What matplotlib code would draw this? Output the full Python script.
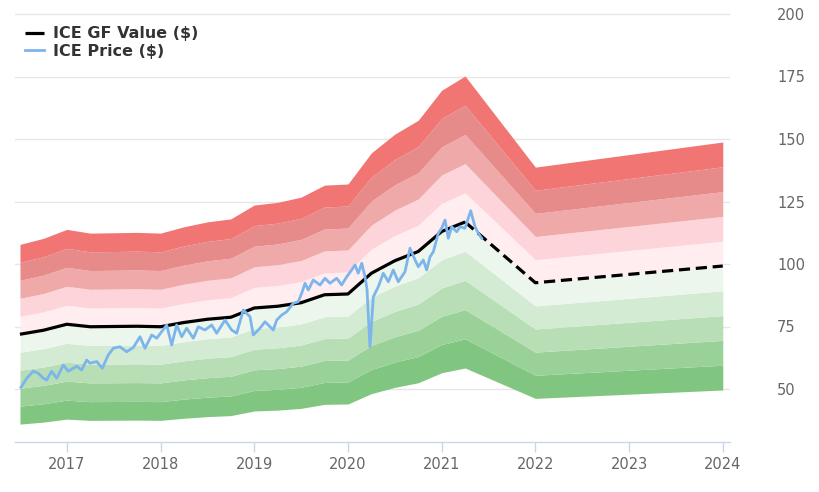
import matplotlib
matplotlib.use("Agg")
import matplotlib.pyplot as plt
import numpy as np

# GF Value nodes (fractional year, $)
gf_years = [2016.5, 2016.75, 2017.0, 2017.25, 2017.5, 2017.75, 2018.0, 2018.25,
            2018.5, 2018.75, 2019.0, 2019.25, 2019.5, 2019.75, 2020.0, 2020.25,
            2020.5, 2020.75, 2021.0, 2021.25, 2022.0, 2024.0]
gf_values = [71.9, 73.5, 75.9, 74.9, 75.0, 75.1, 74.9, 76.6,
             77.9, 78.7, 82.4, 83.1, 84.5, 87.7, 88.0, 96.3,
             101.3, 105.0, 113.0, 116.8, 92.5, 99.2]
gf_last_actual = 2021.25

# ICE price (fractional year, $)
price_years = [2016.511, 2016.572, 2016.642, 2016.695, 2016.749, 2016.785, 2016.838, 2016.892,
               2016.962, 2017.015, 2017.105, 2017.158, 2017.212, 2017.247, 2017.319, 2017.378,
               2017.442, 2017.496, 2017.567, 2017.639, 2017.709, 2017.781, 2017.834, 2017.906,
               2017.959, 2018.066, 2018.119, 2018.172, 2018.226, 2018.279, 2018.350, 2018.403,
               2018.474, 2018.546, 2018.599, 2018.688, 2018.759, 2018.813, 2018.883, 2018.955,
               2018.990, 2019.061, 2019.115, 2019.203, 2019.240, 2019.293, 2019.346, 2019.417,
               2019.470, 2019.506, 2019.542, 2019.577, 2019.630, 2019.702, 2019.755, 2019.808,
               2019.880, 2019.933, 2019.987, 2020.040, 2020.075, 2020.110, 2020.147, 2020.182,
               2020.203, 2020.235, 2020.271, 2020.324, 2020.377, 2020.431, 2020.484, 2020.537,
               2020.609, 2020.662, 2020.716, 2020.751, 2020.804, 2020.840, 2020.876, 2020.911,
               2020.964, 2021.000, 2021.036, 2021.071, 2021.107, 2021.161, 2021.196, 2021.249,
               2021.310, 2021.356, 2021.391, 2021.427]
price_values = [50.7, 54.3, 57.1, 56.3, 54.3, 53.6, 57.1, 54.3,
                59.6, 57.1, 59.1, 57.6, 61.6, 60.3, 61.0, 58.3,
                63.6, 66.3, 66.9, 64.9, 66.6, 70.9, 66.3, 71.6,
                70.3, 75.6, 67.6, 75.6, 70.9, 74.3, 70.3, 74.9,
                73.6, 75.6, 72.3, 77.6, 73.6, 72.3, 81.6, 78.9,
                71.6, 74.3, 76.9, 73.6, 77.6, 79.6, 80.9, 84.3,
                84.9, 88.3, 92.3, 89.6, 93.6, 91.6, 94.3, 92.3,
                94.3, 91.6, 94.9, 97.6, 99.6, 96.3, 100.3, 94.9,
                90.0, 66.9, 86.9, 90.9, 96.3, 92.9, 97.6, 92.9,
                96.9, 106.3, 101.6, 98.9, 101.6, 97.6, 102.9, 104.9,
                112.3, 114.3, 117.6, 110.3, 114.9, 112.9, 114.9, 114.3,
                121.3, 114.9, 112.3, 110.3]

# Band multipliers and colours (from bottom to top)
band_edges = [0.5, 0.6, 0.7, 0.8, 0.9, 1.0, 1.1, 1.2, 1.3, 1.4, 1.5]
band_colors = ["#80C680", "#99D198", "#B7DEB5", "#D4EBD3", "#EDF6EC",
               "#FFEDEF", "#FDD4D9", "#F0A9A9", "#E68A8A", "#F17572"]

x_ticks = [2017, 2018, 2019, 2020, 2021, 2022, 2023, 2024]
y_ticks = [50, 75, 100, 125, 150, 175, 200]

label_gf = "ICE GF Value ($)"
label_price = "ICE Price ($)"

W, H = 820, 492
fig = plt.figure(figsize=(W / 100, H / 100), dpi=100)
ax = fig.add_axes([15 / W, 50 / H, 715 / W, 437 / H])

gx = np.array(gf_years)
gv = np.array(gf_values)
for i, c in enumerate(band_colors):
    ax.fill_between(gx, gv * band_edges[i], gv * band_edges[i + 1], color=c,
                    linewidth=0, zorder=1)

mask_a = gx <= gf_last_actual
mask_p = gx >= gf_last_actual
ax.plot(gx[mask_a], gv[mask_a], color="black", lw=2.3, zorder=3,
        solid_capstyle="butt", label=label_gf)
ax.plot(gx[mask_p], gv[mask_p], color="black", lw=2.3, zorder=3,
        dashes=(3.5, 1.8))
ax.plot(price_years, price_values, color="#7CB5EC", lw=2.0, zorder=4,
        label=label_price)

ax.set_xlim(2016.447, 2024.077)
ax.set_ylim(28.8, 203.6)

ax.set_yticks(y_ticks)
ax.yaxis.tick_right()
ax.tick_params(axis="y", length=0, pad=34, labelsize=10.5, labelcolor="#666666")
for lab in ax.get_yticklabels():
    lab.set_horizontalalignment("left")
ax.grid(axis="y", color="#E6E6E6", lw=1, zorder=0)
ax.set_axisbelow(True)

ax.set_xticks(x_ticks)
ax.set_xticklabels([str(t) for t in x_ticks])
ax.tick_params(axis="x", length=7, width=1, color="#CCD6EB", pad=4,
               labelsize=10.5, labelcolor="#666666")

for s in ["top", "left", "right"]:
    ax.spines[s].set_visible(False)
ax.spines["bottom"].set_color("#CCD6EB")
ax.spines["bottom"].set_linewidth(1)

leg = ax.legend(loc="upper left", bbox_to_anchor=(14 / W, 1 - 15 / H),
                bbox_transform=fig.transFigure, frameon=False,
                prop={"weight": "bold", "size": 11.5}, handlelength=1.2,
                handletextpad=0.55, labelspacing=0.15, borderpad=0.2)
for t in leg.get_texts():
    t.set_color("#333333")

fig.savefig("out.png", dpi=100)
